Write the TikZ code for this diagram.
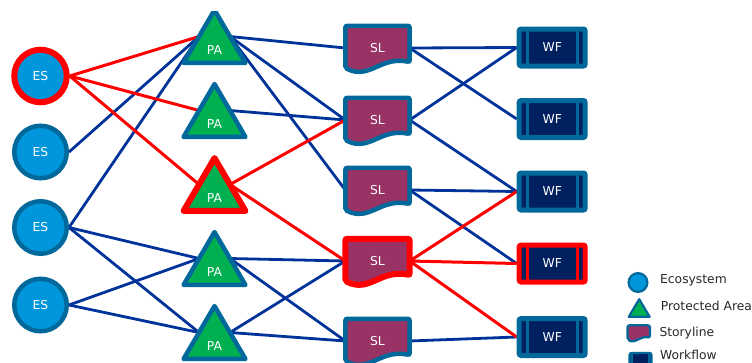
\documentclass[tikz,border=0pt]{standalone}
\usepackage{fontspec}
\setmainfont{DejaVu Sans}
\usetikzlibrary{calc}
\definecolor{esblue}{RGB}{0,150,219}
\definecolor{rimteal}{RGB}{0,104,154}
\definecolor{pagreen}{RGB}{0,176,80}
\definecolor{slplum}{RGB}{153,51,102}
\definecolor{wfnavy}{RGB}{0,32,96}
\definecolor{linkblue}{RGB}{0,51,153}
\definecolor{hotred}{RGB}{255,0,0}
\definecolor{keytext}{RGB}{38,38,38}
\pgfdeclarelayer{links}
\pgfdeclarelayer{shapes}
\pgfsetlayers{links,shapes,main}

\begin{document}
\begin{tikzpicture}[x=1pt,y=-1pt,
  every node/.style={inner sep=0pt, font=\fontsize{12.3}{14}\selectfont},
  rim/.style={draw=rimteal, line width=4.5},
  hotrim/.style={draw=hotred, line width=6},
  es/.style={circle, fill=esblue, minimum size=52.5, text=white},
  pa/.style={minimum width=61.5, minimum height=52.5, text height=36pt, text depth=0pt, text=white},
  patri/.style={fill=pagreen, line join=round},
  sl/.style={minimum width=64, minimum height=44, text=white},
  sldoc/.style={fill=slplum, rounded corners=2},
  wf/.style={rectangle, rounded corners=2, draw=#1, fill=wfnavy, line width=5,
    minimum width=66, minimum height=37, text=white,
    path picture={\draw[draw=#1, line width=.8\pgflinewidth]
      ($(path picture bounding box.north west)!.12!(path picture bounding box.north east)$) --
      ($(path picture bounding box.south west)!.12!(path picture bounding box.south east)$)
      ($(path picture bounding box.north east)!.12!(path picture bounding box.north west)$) --
      ($(path picture bounding box.south east)!.12!(path picture bounding box.south west)$);}},
  wf/.default=rimteal,
  link/.style={draw=linkblue, line width=2.8},
  hotlink/.style={draw=hotred, line width=3},
  key/.style={anchor=base west, text=keytext}]
\useasboundingbox (0,0) rectangle (752,362);

% ecosystems
\foreach \i/\y/\s in {1/76/hotrim,2/152/rim,3/227.5/rim,4/305/rim}
  \node[es,\s] (es\i) at (40.5,\y) {ES};

% protected areas
\foreach \i/\y in {1/36.5,2/110.5,3/184.5,4/258.5,5/332.5}{
  \node[pa] (pa\i) at (214.5,\y) {PA};
  \coordinate (pa\i-w) at ($(pa\i.south west)!.5!(pa\i.north)$);
  \coordinate (pa\i-e) at ($(pa\i.south east)!.5!(pa\i.north)$);
}

% storylines
\foreach \i/\y in {1/48,2/120,3/190,4/261,5/341}
  \node[sl] (sl\i) at (377.5,\y) {SL};

% workflows
\foreach \i/\y/\c in {1/47.5/rimteal,2/119/rimteal,3/191.5/rimteal,4/263.5/hotred,5/337/rimteal}
  \node[wf=\c] (wf\i) at (552.2,\y) {WF};

% legend
\node[es,rim,minimum size=18.8,line width=2.2] (lges) at (638,282.5) {};
\node[pa,minimum width=20.5,minimum height=17.2,text height=0pt] (lgpa) at (639.2,308) {};
\node[sl,minimum width=22,minimum height=15] (lgsl) at (638.7,333) {};
\node[wf,minimum width=22,minimum height=13,line width=2.2] (lgwf) at (640.5,359.5) {};
\node[key] (lgest) at (660,283.8) {Ecosystem};
\node[key] (lgpat) at (660.7,310.2) {Protected Area};
\node[key] (lgslt) at (659.3,336.2) {Storyline};
\node[key] (lgwft) at (660,359.8) {Workflow};

\begin{pgfonlayer}{shapes}
  \clip (0,11.7) rectangle (752,400);
  \foreach \i/\s in {1/rim,2/rim,3/hotrim,4/rim,5/rim}
    \draw[patri,\s] (pa\i.south west) -- (pa\i.north) -- (pa\i.south east) -- cycle;
  \foreach \i/\s in {1/rim,2/rim,3/rim,4/hotrim,5/rim}
    \draw[sldoc,\s] (sl\i.north west) -- (sl\i.north east) -- ($(sl\i.east)+(0,14)$)
      .. controls +(-29.5,-6) and +(24.5,12) .. ($(sl\i.west)+(0,20)$) -- cycle;
  \draw[patri,rim,line width=2.2] (lgpa.south west) -- (lgpa.north) -- (lgpa.south east) -- cycle;
  \draw[sldoc,rim,line width=2.2,x=.34pt,y=-.34pt] (lgsl.north west) -- (lgsl.north east) -- ($(lgsl.east)+(0,14)$)
      .. controls +(-29.5,-6) and +(24.5,12) .. ($(lgsl.west)+(0,20)$) -- cycle;
\end{pgfonlayer}

\begin{pgfonlayer}{links}
  \foreach \a/\b in {es2.east/pa1-w, es3.east/pa1-w, es3.east/pa4-w, es3.east/pa5-w,
      es4.east/pa4-w, es4.east/pa5-w,
      pa1-e/sl1.west, pa1-e/sl2.west, pa1-e/sl3.west, pa2-e/sl2.west,
      pa4-e/sl4.west, pa4-e/sl5.west, pa5-e/sl4.west, pa5-e/sl5.west,
      sl1.east/wf1.west, sl1.east/wf2.west, sl2.east/wf1.west, sl2.east/wf3.west,
      sl3.east/wf3.west, sl3.east/wf4.west, sl5.east/wf5.west}
    \draw[link] (\a) -- (\b);
  \foreach \a/\b in {es1.east/pa1-w, es1.east/pa2-w, es1.east/pa3-w,
      pa3-e/sl2.west, pa3-e/sl4.west,
      sl4.east/wf3.west, sl4.east/wf4.west, sl4.east/wf5.west}
    \draw[hotlink] (\a) -- (\b);
\end{pgfonlayer}
\end{tikzpicture}
\end{document}
